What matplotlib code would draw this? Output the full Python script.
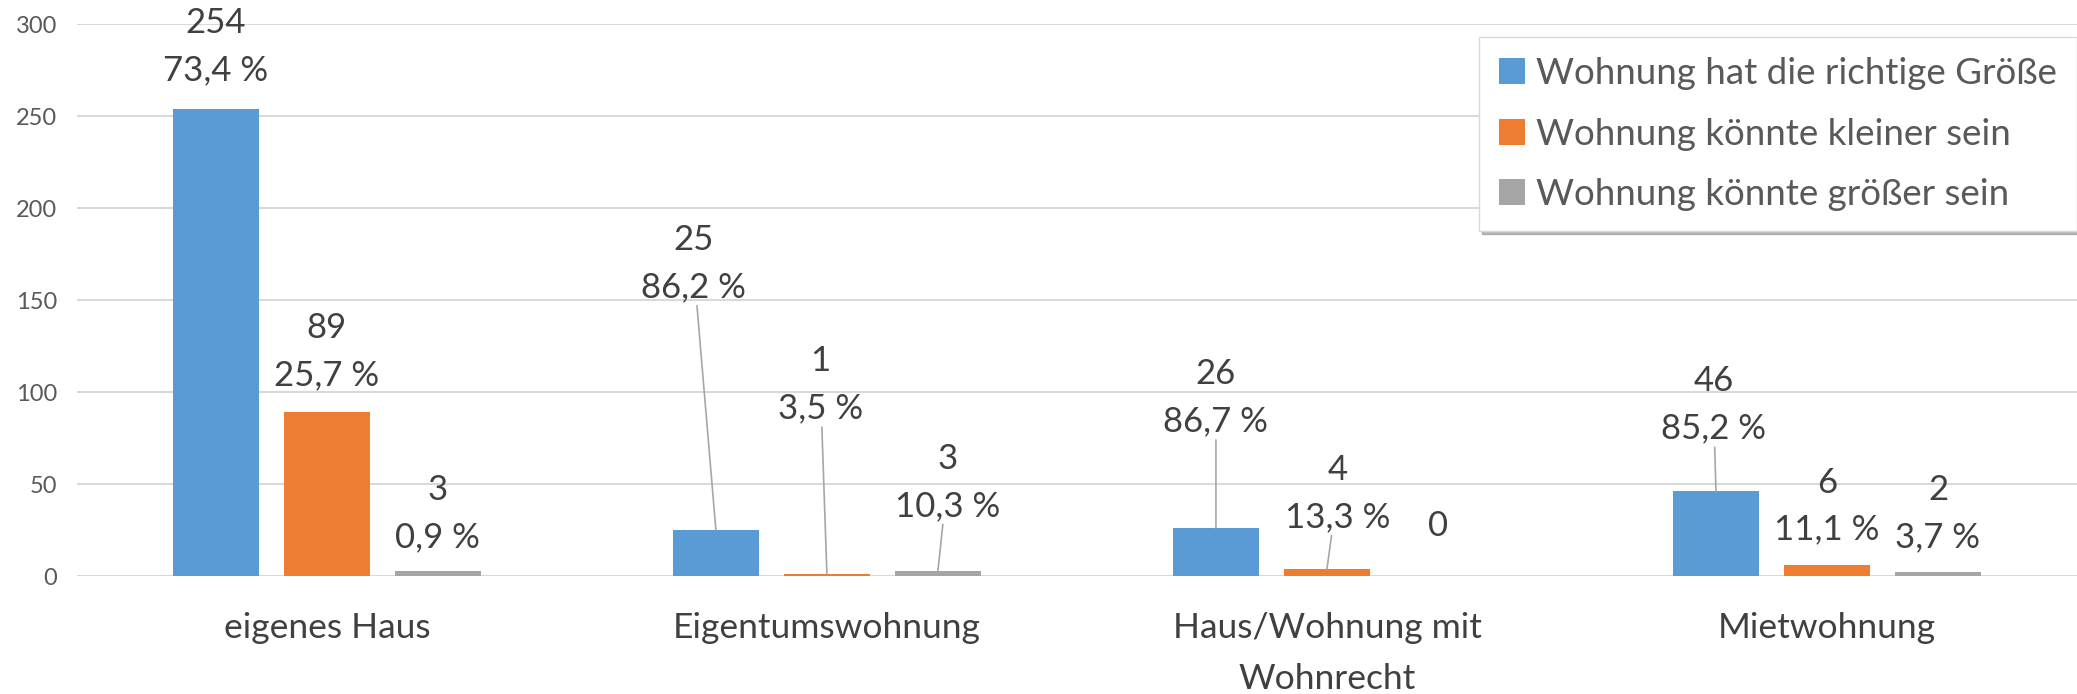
import numpy as np
from matplotlib import pyplot as plt

# data
categories = ["eigenes Haus", "Eigentumswohnung", "Haus/Wohnung mit\nWohnrecht", "Mietwohnung"]
series_names = ["Wohnung hat die richtige Größe",
                "Wohnung könnte kleiner sein",
                "Wohnung könnte größer sein"]
counts_richtig = [254, 25, 26, 46]
counts_kleiner = [89, 1, 4, 6]
counts_groesser = [3, 3, 0, 2]
pct_richtig = ["73,4 %", "86,2 %", "86,7 %", "85,2 %"]
pct_kleiner = ["25,7 %", "3,5 %", "13,3 %", "11,1 %"]
pct_groesser = ["0,9 %", "10,3 %", "", "3,7 %"]

colors = ["#5B9BD5", "#ED7D31", "#A5A5A5"]
text_col = "#404040"

# manual label placement (like in the original sheet): label centre y, x shift, leader line
lab_y = [[288, 170, 97, 93], [122, 104, 45, 38], [34, 51, 27, 34]]
lab_dx = [[0, -0.045, 0, -0.005], [0, -0.013, 0.021, 0], [0, 0.019, 0, 0]]
leader = [[False, True, True, True], [False, True, True, False], [False, True, False, False]]

plt.rcParams['font.family'] = ['Lato', 'DejaVu Sans']

fig = plt.figure(figsize=(20.77, 6.94), dpi=100)
ax = fig.add_axes([0.037, 0.17, 0.963, 0.795])

x = np.arange(len(categories))
bw = 0.172
step = 0.222
all_counts = [counts_richtig, counts_kleiner, counts_groesser]
all_pct = [pct_richtig, pct_kleiner, pct_groesser]

for s in range(3):
    xs = x + (s - 1) * step
    ax.bar(xs, all_counts[s], width=bw, color=colors[s], label=series_names[s], zorder=3)
    for i in range(len(categories)):
        val = all_counts[s][i]
        txt = str(val) if all_pct[s][i] == "" else "%d\n%s" % (val, all_pct[s][i])
        tx = xs[i] + lab_dx[s][i]
        ty = lab_y[s][i]
        if leader[s][i]:
            ax.annotate(txt, xy=(xs[i], val), xytext=(tx, ty), textcoords='data',
                        ha='center', va='center', fontsize=25, color=text_col,
                        linespacing=1.58,
                        arrowprops=dict(arrowstyle='-', color='#A6A6A6', lw=1.2,
                                        shrinkA=0, shrinkB=0))
        else:
            ax.text(tx, ty, txt, ha='center', va='center', fontsize=25,
                    color=text_col, linespacing=1.58)

ax.set_xlim(-0.5, 3.5)
ax.set_ylim(0, 300)
ax.set_yticks(np.arange(0, 301, 50))
ax.yaxis.grid(True, color='#D9D9D9', lw=1.5, zorder=0)
ax.set_axisbelow(True)
for sp in ax.spines.values():
    sp.set_visible(False)
ax.tick_params(axis='y', length=0, pad=14, labelsize=17, labelcolor='#595959')
ax.set_xticks(x)
ax.set_xticklabels(categories, fontsize=25.5, color=text_col, linespacing=1.72)
ax.tick_params(axis='x', length=0, pad=26)

leg = ax.legend(loc='upper right', bbox_to_anchor=(1.0, 0.947), bbox_transform=fig.transFigure,
                fontsize=26.5, frameon=True, fancybox=False, edgecolor='#D9D9D9',
                shadow={'color': '0.55', 'alpha': 0.6}, handlelength=0.7, handleheight=0.7,
                handletextpad=0.3, labelspacing=0.75, borderpad=0.55, borderaxespad=0)
for t in leg.get_texts():
    t.set_color('#595959')

fig.savefig("out.png", dpi=100)
